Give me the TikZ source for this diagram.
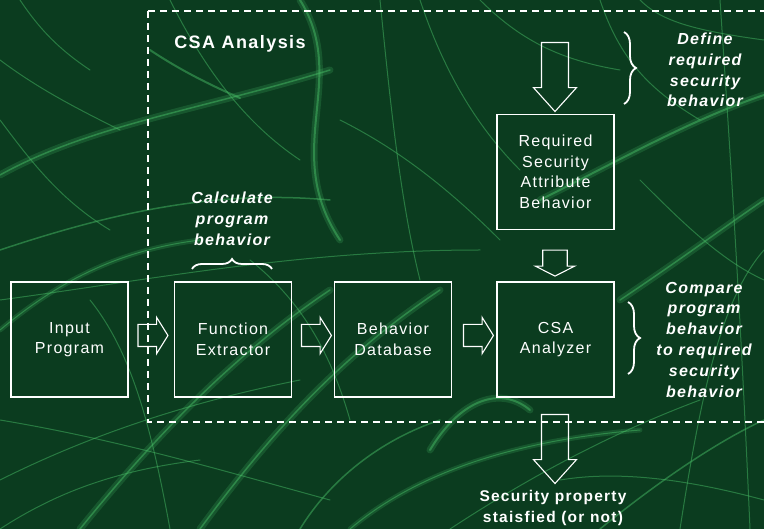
\documentclass[tikz,border=0pt]{standalone}
\usepackage{fontspec}
\setmainfont{Liberation Sans}[LetterSpace=8]
\usetikzlibrary{shapes.arrows,decorations.pathreplacing}

\definecolor{bggreen}{RGB}{11,60,31}
\definecolor{streak}{RGB}{70,185,100}

\begin{document}
\begin{tikzpicture}[x=1pt,y=-1pt,
    box/.style={draw=white, line width=1.2pt, minimum width=117pt, minimum height=115pt, align=center, text=white, font=\fontsize{16}{20.5}\selectfont},
    blockarrow/.style={single arrow, draw=white, line width=1.1pt, inner sep=0pt, single arrow head indent=0pt},
    note/.style={align=center, text=white, font=\fontsize{16}{20.8}\selectfont\bfseries\itshape},
    curly/.style={draw=white, line width=1.8pt, decorate, decoration={brace, amplitude=#1}},
    strk/.style={draw=streak, line width=#1, line cap=round}
  ]
  % Background
  \useasboundingbox (0,0) rectangle (764,529);
  \fill[bggreen] (0,0) rectangle (764,529);

  % Streaks
  \begin{scope}[opacity=0.22]
    \draw[strk=7pt] (0,175) .. controls (90,125) and (200,110) .. (330,70);
    \draw[strk=7pt] (300,0) .. controls (350,80) and (280,150) .. (340,240);
    \draw[strk=7pt] (80,529) .. controls (160,430) and (240,350) .. (330,290);
    \draw[strk=7pt] (540,200) .. controls (620,160) and (690,120) .. (764,95);
    \draw[strk=7pt] (430,450) .. controls (460,400) and (500,385) .. (530,410);
    \draw[strk=7pt] (200,529) .. controls (280,420) and (350,350) .. (440,290);
    \draw[strk=7pt] (620,300) .. controls (680,260) and (720,230) .. (764,200);
    \draw[strk=5pt] (0,330) .. controls (60,280) and (120,250) .. (200,240);
    \draw[strk=5pt] (350,529) .. controls (420,470) and (520,440) .. (640,430);
  \end{scope}
  \begin{scope}[opacity=0.5]
    \draw[strk=1.5pt] (0,175) .. controls (90,125) and (200,110) .. (330,70);
    \draw[strk=2pt] (300,0) .. controls (350,80) and (280,150) .. (340,240);
    \draw[strk=1.5pt] (80,529) .. controls (160,430) and (240,350) .. (330,290);
    \draw[strk=2pt] (540,200) .. controls (620,160) and (690,120) .. (764,95);
    \draw[strk=2pt] (430,450) .. controls (460,400) and (500,385) .. (530,410);
    \draw[strk=2pt] (150,50) .. controls (180,70) and (210,85) .. (240,98);
    \draw[strk=1pt] (0,60) .. controls (40,90) and (80,110) .. (120,130);
    \draw[strk=1pt] (20,0) .. controls (40,30) and (60,50) .. (90,70);
    \draw[strk=1.5pt] (0,250) .. controls (120,210) and (220,190) .. (330,200);
    \draw[strk=1pt] (0,300) .. controls (150,280) and (300,250) .. (480,250);
    \draw[strk=1.5pt] (200,529) .. controls (280,420) and (350,350) .. (440,290);
    \draw[strk=1pt] (0,480) .. controls (100,430) and (200,400) .. (300,380);
    \draw[strk=1pt] (0,420) .. controls (120,440) and (220,470) .. (330,500);
    \draw[strk=1.5pt] (300,529) .. controls (330,480) and (380,440) .. (440,420);
    \draw[strk=1pt] (450,529) .. controls (540,470) and (620,430) .. (700,400);
    \draw[strk=1.5pt] (600,529) .. controls (660,480) and (720,440) .. (764,420);
    \draw[strk=1.5pt] (620,300) .. controls (680,260) and (720,230) .. (764,200);
    \draw[strk=1pt] (720,0) .. controls (730,150) and (740,300) .. (750,529);
    \draw[strk=1pt] (680,529) .. controls (700,400) and (720,300) .. (764,250);
    \draw[strk=1pt] (420,0) .. controls (440,60) and (470,120) .. (520,170);
    \draw[strk=1pt] (600,0) .. controls (620,60) and (650,90) .. (700,120);
    \draw[strk=1pt] (340,120) .. controls (400,150) and (450,190) .. (500,240);
    \draw[strk=1pt] (90,300) .. controls (130,350) and (150,420) .. (170,529);
    \draw[strk=1pt] (0,330) .. controls (60,280) and (120,250) .. (200,240);
    \draw[strk=1pt] (350,529) .. controls (420,470) and (520,440) .. (640,430);
    \draw[strk=1pt] (0,120) .. controls (30,160) and (60,200) .. (110,230);
    \draw[strk=1pt] (170,0) .. controls (200,60) and (240,120) .. (300,160);
    \draw[strk=1pt] (380,0) .. controls (390,100) and (400,200) .. (420,280);
    \draw[strk=1pt] (480,0) .. controls (520,40) and (560,60) .. (620,70);
    \draw[strk=1pt] (640,180) .. controls (680,220) and (720,260) .. (764,280);
    \draw[strk=1pt] (0,529) .. controls (60,490) and (120,470) .. (200,460);
    \draw[strk=1pt] (250,260) .. controls (300,300) and (330,350) .. (350,420);
    \draw[strk=1pt] (560,480) .. controls (620,470) and (690,480) .. (764,500);
    \draw[strk=1pt] (640,0) .. controls (660,20) and (690,30) .. (764,40);
  \end{scope}

  % CSA analysis frame
  \coordinate (frametop) at (148,11);
  \coordinate (framebot) at (148,422);
  \draw[white, line width=1.2pt, dash pattern=on 7pt off 5pt] (frametop) -- (764,11);
  \draw[white, line width=1.2pt, dash pattern=on 7pt off 5pt] (frametop) -- (framebot) -- (764,422);
  \node[text=white, font=\fontsize{18}{21}\selectfont\bfseries] (title) at (240,44) {CSA Analysis};

  % Boxes
  \node[box] (input) at (69.5,339.5) {Input\\Program};
  \node[box] (extract) at (233,339.5) {Function\\Extractor};
  \node[box] (database) at (393,339.5) {Behavior\\Database};
  \node[box] (analyzer) at (555.5,339.5) {CSA\\Analyzer};
  \node[box] (required) at (555.5,172) {Required\\Security\\Attribute\\Behavior};

  % Block arrows
  \node[blockarrow, minimum height=30pt, minimum width=35pt, inner ysep=10.5pt, single arrow tip angle=116] (a1) at (149.5,335.5) {};
  \node[blockarrow, minimum height=30pt, minimum width=35pt, inner ysep=10.5pt, single arrow tip angle=116] (a2) at (313,335.5) {};
  \node[blockarrow, minimum height=30pt, minimum width=35pt, inner ysep=10.5pt, single arrow tip angle=116] (a3) at (475,335.5) {};
  \node[blockarrow, rotate=-90, minimum height=69pt, minimum width=43pt, inner ysep=11.5pt, single arrow tip angle=84] (a4) at (555,69.5) {};
  \node[blockarrow, rotate=-90, minimum height=26pt, minimum width=39pt, inner ysep=11.5pt, single arrow tip angle=126] (a5) at (555,260) {};
  \node[blockarrow, rotate=-90, minimum height=69pt, minimum width=43pt, inner ysep=11.5pt, single arrow tip angle=84] (a6) at (555,441.5) {};

  % Braces and notes
  \coordinate (cb1) at (192,269);
  \coordinate (cb2) at (272,269);
  \draw[curly=10pt] (cb1) -- (cb2);
  \node[note] (calc) at (232,219) {Calculate\\program\\behavior};

  \coordinate (db1) at (624,32);
  \coordinate (db2) at (624,104);
  \draw[curly=12pt] (db1) -- (db2);
  \node[note] (define) at (705,70) {Define\\required\\security\\behavior};

  \coordinate (pb1) at (628,302);
  \coordinate (pb2) at (628,374);
  \draw[curly=12pt] (pb1) -- (pb2);
  \node[note] (compare) at (704,339.5) {Compare\\program\\behavior\\to required\\security\\behavior};

  % Result
  \node[align=center, text=white, font=\fontsize{15.5}{20.5}\selectfont\bfseries] (result) at (553,508) {Security property\\staisfied (or not)};
\end{tikzpicture}
\end{document}
